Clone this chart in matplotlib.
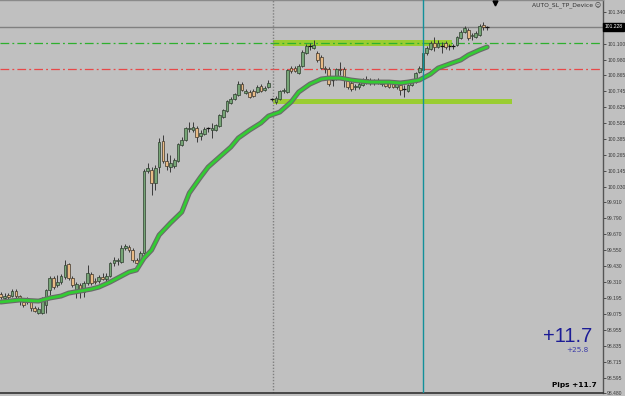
import matplotlib
matplotlib.use("Agg")
import matplotlib.pyplot as plt
import matplotlib.patheffects as pe
import numpy as np

# ---------------- data ----------------
opens = [99.223, 99.193, 99.215, 99.208, 99.245, 99.208, 99.163, 99.163, 99.163, 99.118,
         99.080, 99.080, 99.140, 99.253, 99.343, 99.290, 99.313, 99.350, 99.448, 99.343,
         99.238, 99.290, 99.238, 99.305, 99.373, 99.320, 99.320, 99.350, 99.335, 99.358,
         99.456, 99.471, 99.463, 99.568, 99.576, 99.553, 99.478, 99.456, 99.531, 100.146,
         100.154, 100.056, 100.176, 100.371, 100.221, 100.176, 100.184, 100.221, 100.341, 100.379,
         100.462, 100.454, 100.469, 100.409, 100.424, 100.469, 100.454, 100.454, 100.484, 100.552,
         100.597, 100.657, 100.687, 100.717, 100.799, 100.732, 100.739, 100.747, 100.739, 100.784,
         100.754, 100.777, 100.687, 100.664, 100.687, 100.747, 100.739, 100.919, 100.919, 100.882,
         100.935, 101.032, 101.085, 101.070, 101.032, 101.002, 100.919, 100.912, 100.829, 100.844,
         100.912, 100.912, 100.829, 100.807, 100.777, 100.777, 100.792, 100.837, 100.822, 100.807,
         100.829, 100.799, 100.807, 100.807, 100.799, 100.777, 100.792, 100.762, 100.747, 100.792,
         100.814, 100.889, 100.904, 101.032, 101.062, 101.107, 101.077, 101.085, 101.107, 101.085,
         101.085, 101.092, 101.145, 101.190, 101.205, 101.160, 101.152, 101.167, 101.242, 101.227]
highs = [99.238, 99.230, 99.230, 99.260, 99.260, 99.215, 99.178, 99.200, 99.178, 99.133,
         99.125, 99.200, 99.260, 99.358, 99.358, 99.365, 99.373, 99.478, 99.456, 99.358,
         99.313, 99.305, 99.320, 99.441, 99.388, 99.343, 99.365, 99.380, 99.380, 99.463,
         99.501, 99.493, 99.591, 99.598, 99.591, 99.568, 99.493, 99.546, 100.161, 100.206,
         100.176, 100.191, 100.394, 100.417, 100.281, 100.266, 100.244, 100.356, 100.401, 100.477,
         100.514, 100.514, 100.484, 100.454, 100.477, 100.477, 100.507, 100.499, 100.574, 100.612,
         100.679, 100.702, 100.732, 100.822, 100.814, 100.762, 100.754, 100.762, 100.792, 100.799,
         100.784, 100.829, 100.694, 100.709, 100.754, 100.769, 100.912, 100.935, 100.935, 100.950,
         101.055, 101.100, 101.107, 101.130, 101.047, 101.017, 100.935, 100.927, 100.844, 100.919,
         100.965, 100.927, 100.844, 100.822, 100.799, 100.814, 100.844, 100.859, 100.844, 100.837,
         100.844, 100.829, 100.822, 100.814, 100.814, 100.814, 100.799, 100.792, 100.799, 100.829,
         100.889, 100.935, 101.040, 101.085, 101.122, 101.152, 101.130, 101.115, 101.122, 101.100,
         101.100, 101.160, 101.205, 101.235, 101.220, 101.182, 101.197, 101.250, 101.265, 101.235]
lows = [99.185, 99.178, 99.185, 99.200, 99.193, 99.140, 99.125, 99.148, 99.095, 99.088,
        99.073, 99.073, 99.080, 99.215, 99.260, 99.275, 99.298, 99.335, 99.328, 99.275,
        99.193, 99.193, 99.200, 99.290, 99.290, 99.298, 99.305, 99.328, 99.320, 99.350,
        99.433, 99.441, 99.456, 99.553, 99.538, 99.463, 99.448, 99.448, 99.523, 100.131,
        99.966, 100.004, 100.131, 100.206, 100.154, 100.139, 100.169, 100.214, 100.334, 100.371,
        100.439, 100.439, 100.364, 100.379, 100.417, 100.439, 100.394, 100.447, 100.477, 100.544,
        100.589, 100.649, 100.679, 100.709, 100.747, 100.724, 100.694, 100.702, 100.732, 100.739,
        100.747, 100.769, 100.672, 100.649, 100.679, 100.732, 100.732, 100.882, 100.889, 100.874,
        100.927, 101.025, 101.055, 101.062, 100.965, 100.912, 100.882, 100.784, 100.784, 100.829,
        100.867, 100.777, 100.762, 100.747, 100.754, 100.762, 100.784, 100.799, 100.792, 100.792,
        100.799, 100.784, 100.777, 100.769, 100.769, 100.762, 100.717, 100.702, 100.739, 100.784,
        100.807, 100.882, 100.897, 101.017, 101.055, 101.047, 101.070, 101.032, 101.062, 101.055,
        101.062, 101.085, 101.137, 101.182, 101.130, 101.130, 101.145, 101.160, 101.205, 101.205]
closes = [99.200, 99.208, 99.200, 99.245, 99.208, 99.170, 99.140, 99.185, 99.118, 99.095,
          99.110, 99.193, 99.253, 99.343, 99.275, 99.313, 99.358, 99.441, 99.343, 99.290,
          99.298, 99.253, 99.305, 99.380, 99.305, 99.313, 99.350, 99.335, 99.358, 99.456,
          99.478, 99.478, 99.568, 99.583, 99.553, 99.478, 99.456, 99.531, 100.146, 100.169,
          100.056, 100.169, 100.364, 100.221, 100.184, 100.206, 100.229, 100.349, 100.379, 100.469,
          100.469, 100.477, 100.401, 100.432, 100.462, 100.468, 100.469, 100.492, 100.567, 100.604,
          100.672, 100.687, 100.724, 100.799, 100.754, 100.747, 100.702, 100.709, 100.777, 100.747,
          100.769, 100.807, 100.686, 100.694, 100.747, 100.754, 100.904, 100.897, 100.897, 100.935,
          101.040, 101.085, 101.084, 101.092, 100.980, 100.919, 100.912, 100.799, 100.828, 100.912,
          100.904, 100.829, 100.777, 100.762, 100.784, 100.799, 100.829, 100.814, 100.814, 100.822,
          100.807, 100.814, 100.784, 100.777, 100.777, 100.799, 100.754, 100.761, 100.792, 100.814,
          100.882, 100.919, 101.032, 101.070, 101.107, 101.077, 101.107, 101.084, 101.077, 101.084,
          101.084, 101.152, 101.190, 101.220, 101.145, 101.167, 101.182, 101.235, 101.227, 101.228]

# moving average readings (bar index, price)
ma_bar = [0, 5, 10, 13, 16, 18, 21, 24, 26, 29, 32, 34, 36, 38, 40, 42, 45, 48, 50, 53,
          55, 58, 61, 63, 66, 69, 71, 74, 77, 79, 82, 85, 87, 90, 93, 95, 98, 101, 103, 106,
          108, 111, 114, 116, 119, 122, 124, 127, 129]
ma_val = [99.163, 99.178, 99.170, 99.193, 99.208, 99.230, 99.245, 99.260, 99.275, 99.313,
          99.358, 99.388, 99.403, 99.493, 99.553, 99.666, 99.756, 99.838, 99.981, 100.101,
          100.176, 100.251, 100.326, 100.394, 100.454, 100.507, 100.559, 100.589, 100.664, 100.739,
          100.799, 100.837, 100.844, 100.844, 100.829, 100.822, 100.814, 100.814, 100.814, 100.807,
          100.814, 100.829, 100.874, 100.919, 100.950, 100.980, 101.017, 101.055, 101.077]

tick_vals = [101.340, 101.100, 100.980, 100.865, 100.745, 100.625, 100.505, 100.385, 100.265,
             100.145, 100.030, 99.910, 99.790, 99.670, 99.550, 99.430, 99.310, 99.195, 99.075,
             98.955, 98.835, 98.715, 98.595, 98.480]
tick_labels = ["101.340", "101.100", "100.980", "100.865", "100.745", "100.625", "100.505",
               "100.385", "100.265", "100.145", "100.030", "99.910", "99.790", "99.670", "99.550",
               "99.430", "99.310", "99.195", "99.075", "98.955", "98.835", "98.715", "98.595",
               "98.480"]

bid_price = 101.228
bid_label = "101.228"
tp_level = 101.107
sl_level = 100.912
upper_zone = (101.085, 101.130)
lower_zone = (100.649, 100.687)
zone_start = 72.2
upper_zone_end = 119.7
lower_zone_end = 135.6
separator_bar = 72.2
marker_bar = 111.9
arrow_bar = 131.1
arrow_price = 101.404

ea_name = "AUTO_SL_TP_Device \u263a"
pips_big = "+11.7"
pips_small = "+25.8"
pips_text = "Pips +11.7"

# ---------------- drawing ----------------
BG = "#c0c0c0"
AXFONT = "Liberation Sans"
fig = plt.figure(figsize=(6.25, 3.96), dpi=100, facecolor=BG)
ax = fig.add_axes([0, 3 / 396, 603 / 625, 393 / 396])
ax.set_facecolor(BG)
ax.set_xlim(-0.21, 159.73)
ax.set_ylim(98.480, 101.430)

o = np.array(opens); h = np.array(highs); l = np.array(lows); c = np.array(closes)
x = np.arange(len(o))

# zones
ax.fill_between([zone_start, upper_zone_end], upper_zone[0], upper_zone[1],
                color="#9acd32", lw=0, zorder=1)
ax.fill_between([zone_start, lower_zone_end], lower_zone[0], lower_zone[1],
                color="#9acd32", lw=0, zorder=1)

# horizontal lines
ax.axhline(bid_price, color="#808080", lw=1.0, zorder=1.5)
ax.axhline(tp_level, color="#2eb02e", lw=0.9, ls=(0, (7, 2.5, 1.5, 2.5)), zorder=1.6)
ax.axhline(sl_level, color="#e84848", lw=0.9, ls=(0, (7, 2.5, 1.5, 2.5)), zorder=1.6)

# separator
ax.axvline(separator_bar, color="#808080", lw=1.0, ls=(0, (1, 1.2)), zorder=1.7)

# candles
ax.vlines(x, l, h, color="#3a3a3a", lw=0.7, zorder=3)
bull = c > o + 0.0015
bear = c < o - 0.0015
doji = ~(bull | bear)
w = 0.72
ax.bar(x[bull], (c - o)[bull], bottom=o[bull], width=w, color="#76a576",
       edgecolor="#2e3e2e", lw=0.5, zorder=3.5)
ax.bar(x[bear], (c - o)[bear], bottom=o[bear], width=w, color="#e8bb86",
       edgecolor="#3e3428", lw=0.5, zorder=3.5)
ax.hlines((o + c)[doji] / 2, x[doji] - 0.5, x[doji] + 0.5, color="#101010", lw=0.9, zorder=3.6)

# moving average
ax.plot(ma_bar, ma_val, color="#33cc33", lw=2.0, solid_capstyle="round",
        solid_joinstyle="round", zorder=4,
        path_effects=[pe.Stroke(linewidth=3.6, foreground="#6a6a6a"), pe.Normal()])

# event line
ax.axvline(marker_bar, color="#12909a", lw=1.0, zorder=5)

# small arrow
ax.plot([arrow_bar], [arrow_price], marker="v", color="black", ms=3.5, zorder=6)

# axes styling
ax.spines["left"].set_visible(False)
ax.spines["top"].set_color("#8a8a8a")
ax.spines["top"].set_linewidth(1.0)
ax.spines["right"].set_color("#555555")
ax.spines["right"].set_linewidth(1.0)
ax.spines["bottom"].set_color("#333333")
ax.spines["bottom"].set_linewidth(1.2)
ax.set_xticks([])
ax.yaxis.tick_right()
ax.set_yticks(tick_vals)
ax.set_yticklabels(tick_labels, family=AXFONT)
ax.tick_params(axis="y", labelsize=3.6, length=2.0, width=0.6, pad=1.0,
               colors="#3a3a3a")

# bid box
ax.text(1.003, bid_price, bid_label, transform=ax.get_yaxis_transform(),
        ha="left", va="center", fontsize=3.6, color="white", zorder=10, family=AXFONT,
        bbox=dict(boxstyle="square,pad=0.3", fc="black", ec="black"), clip_on=False)

# texts
fig.text(601 / 625, 1 - 6 / 396, ea_name, ha="right", va="center", fontsize=4.3,
         color="#303030")
fig.text(592 / 625, 1 - 337 / 396, pips_big, ha="right", va="center", fontsize=14.5,
         color="#1c1c96", family="Liberation Sans")
fig.text(588 / 625, 1 - 350 / 396, pips_small, ha="right", va="center", fontsize=5.2,
         color="#3c3ca8")
fig.text(597 / 625, 1 - 385 / 396, pips_text, ha="right", va="center", fontsize=5.3,
         color="black", fontweight="bold")

fig.savefig("out.png", dpi=100, facecolor=BG)
